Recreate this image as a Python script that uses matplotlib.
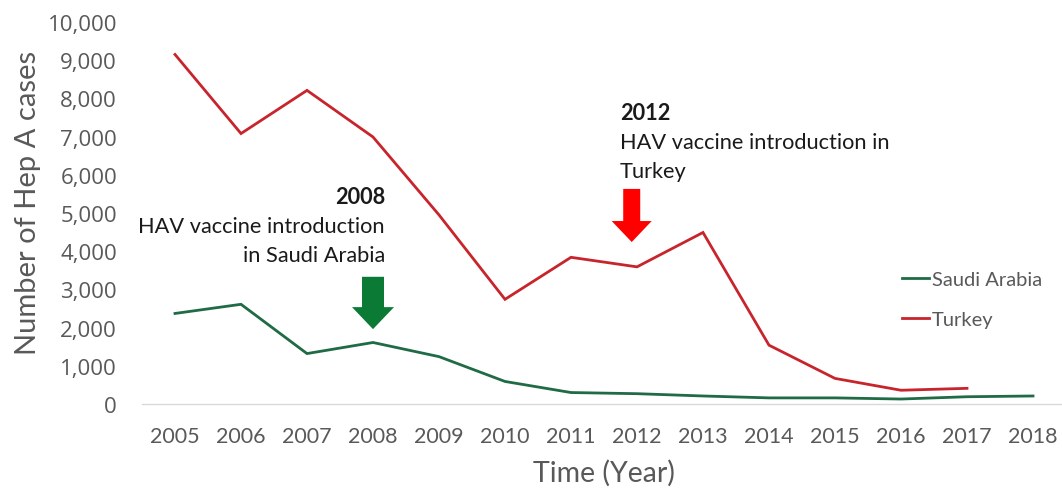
import matplotlib
matplotlib.use("Agg")
import matplotlib.pyplot as plt

years = list(range(2005, 2019))
saudi = [2370, 2610, 1320, 1610, 1240, 590, 300, 270, 210, 160, 160, 130, 190, 210]
turkey_years = list(range(2005, 2018))
turkey = [9150, 7080, 8210, 6990, 4950, 2740, 3840, 3590, 4490, 1540, 670, 360, 410]
yticks = list(range(0, 10001, 1000))

plt.rcParams['font.family'] = ['Lato', 'DejaVu Sans']

W, H = 1062, 489
fig = plt.figure(figsize=(W / 100, H / 100), dpi=100)
left, right, top, bottom = 142, 1062, 23, 405
ax = fig.add_axes([left / W, 1 - bottom / H, (right - left) / W, (bottom - top) / H])
ppx = 66.0
ax.set_xlim(2004.5, 2004.5 + (right - left) / ppx)
ax.set_ylim(0, 10000)

green = '#1f6b45'
red = '#c8242c'
gray = '#595959'

ax.plot(years, saudi, color=green, lw=2.0, label='Saudi Arabia', solid_joinstyle='miter')
ax.plot(turkey_years, turkey, color=red, lw=2.0, label='Turkey', solid_joinstyle='miter')

for s in ['top', 'right', 'left']:
    ax.spines[s].set_visible(False)
ax.spines['bottom'].set_color('#d9d9d9')
ax.spines['bottom'].set_linewidth(1.0)

ax.set_xticks(years)
ax.set_xticklabels([str(y) for y in years])
ax.set_yticks(yticks)
ax.set_yticklabels([f"{v:,}" for v in yticks])
ax.tick_params(axis='x', length=0, pad=16, labelsize=15.5, labelcolor=gray)
ax.tick_params(axis='y', length=0, pad=18, labelcolor=gray)
for lab in ax.get_yticklabels():
    lab.set_fontfamily(['Open Sans', 'DejaVu Sans'])
    lab.set_fontsize(16)

fig.text(28 / W, 1 - 203 / H, 'Number of Hep A cases', rotation=90, ha='center', va='center',
         fontsize=21, color=gray)
fig.text(604 / W, 1 - 473 / H, 'Time (Year)', ha='center', va='center', fontsize=20.5, color=gray)

# arrows
def down_arrow(x, y0, y1, color, tail_px, head_px, headlen_px):
    k = 0.72
    ax.annotate('', xy=(x, y1), xytext=(x, y0),
                arrowprops=dict(arrowstyle=f'simple,head_width={head_px*k/10:.3f},'
                                f'head_length={headlen_px*k/10:.3f},tail_width={tail_px*k/10:.3f}',
                                color=color, shrinkA=0, shrinkB=0, mutation_scale=10, lw=0))

down_arrow(2008, 3330, 1960, '#0b7a35', 22, 42, 22)
down_arrow(2011.92, 5630, 4240, '#ff0000', 17, 40, 21)

# annotation texts
tc = '#1a1a1a'
fs = 15.7
ax.text(2008.18, 5420, '2008', ha='right', va='center', fontsize=fs, fontweight='bold', color=tc)
ax.text(2008.18, 4660, 'HAV vaccine introduction', ha='right', va='center', fontsize=fs, color=tc)
ax.text(2008.18, 3900, 'in Saudi Arabia', ha='right', va='center', fontsize=fs, color=tc)
ax.text(2011.74, 7640, '2012', ha='left', va='center', fontsize=fs, fontweight='bold', color=tc)
ax.text(2011.74, 6860, 'HAV vaccine introduction in', ha='left', va='center', fontsize=fs, color=tc)
ax.text(2011.74, 6100, 'Turkey', ha='left', va='center', fontsize=fs, color=tc)

leg = ax.legend(loc='upper left', bbox_to_anchor=(0.815, 0.374), frameon=False, fontsize=14.5,
                handlelength=1.35, handletextpad=0.15, labelspacing=1.1, borderpad=0)
for t in leg.get_texts():
    t.set_color(gray)

fig.savefig('out.png', dpi=100)
